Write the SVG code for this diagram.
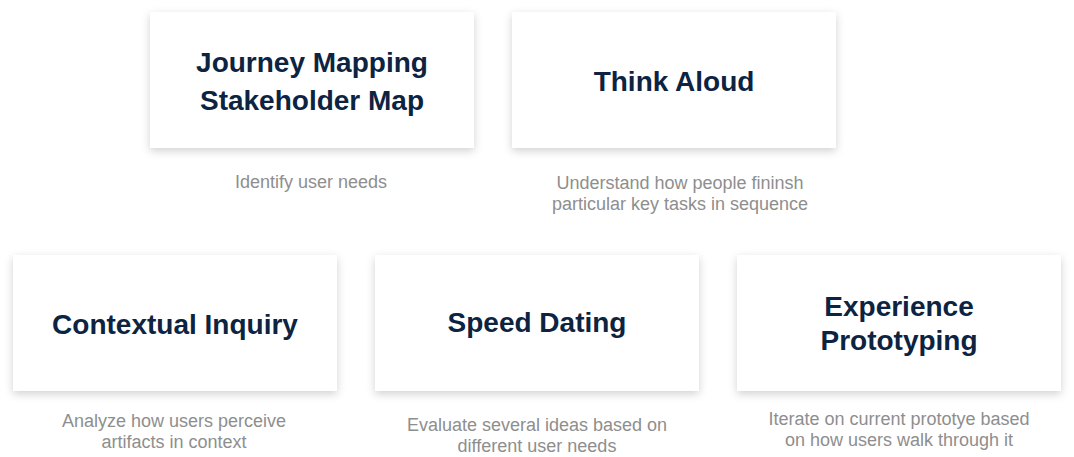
<svg xmlns="http://www.w3.org/2000/svg" width="1074" height="457" viewBox="0 0 1074 457">
  <defs>
    <filter id="shadow" x="-10%" y="-15%" width="120%" height="135%">
      <feDropShadow dx="0" dy="3" stdDeviation="4.5" flood-color="#000" flood-opacity="0.18"/>
    </filter>
    <style>
      .card { fill: #ffffff; filter: url(#shadow); }
      .title { font-family: "Liberation Sans", Arial, sans-serif; font-weight: bold; font-size: 28px; fill: #0c2441; text-anchor: middle; }
      .note { font-family: "Liberation Sans", Arial, sans-serif; font-size: 18px; fill: #8e8e8e; text-anchor: middle; }
    </style>
  </defs>
  <rect width="1074" height="457" fill="#ffffff"/>

  <g id="journey-mapping">
    <rect class="card" x="150" y="12" width="324" height="136"/>
    <text class="title" x="312" y="72">Journey Mapping</text>
    <text class="title" x="312" y="110">Stakeholder Map</text>
    <text class="note" x="311" y="188">Identify user needs</text>
  </g>

  <g id="think-aloud">
    <rect class="card" x="512" y="12" width="324" height="136"/>
    <text class="title" x="674" y="91">Think Aloud</text>
    <text class="note" x="680" y="189">Understand how people fininsh</text>
    <text class="note" x="680" y="210">particular key tasks in sequence</text>
  </g>

  <g id="contextual-inquiry">
    <rect class="card" x="13" y="255" width="324" height="136"/>
    <text class="title" x="175" y="334">Contextual Inquiry</text>
    <text class="note" x="174" y="427">Analyze how users perceive</text>
    <text class="note" x="174" y="448">artifacts in context</text>
  </g>

  <g id="speed-dating">
    <rect class="card" x="375" y="255" width="324" height="136"/>
    <text class="title" x="537" y="332">Speed Dating</text>
    <text class="note" x="537" y="431">Evaluate several ideas based on</text>
    <text class="note" x="537" y="452">different user needs</text>
  </g>

  <g id="experience-prototyping">
    <rect class="card" x="737" y="255" width="324" height="136"/>
    <text class="title" x="899" y="316">Experience</text>
    <text class="title" x="899" y="350">Prototyping</text>
    <text class="note" x="899" y="425">Iterate on current prototye based</text>
    <text class="note" x="899" y="446">on how users walk through it</text>
  </g>

  <g id="connectors"></g>
</svg>
